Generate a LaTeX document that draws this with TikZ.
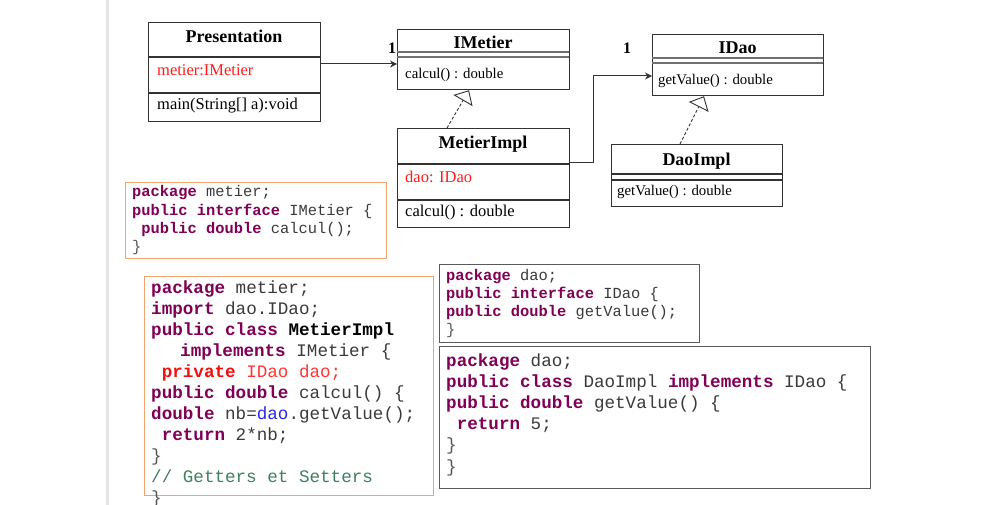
\documentclass[tikz,border=0pt]{standalone}
\usepackage{fontspec}
\setmainfont{Liberation Serif}
\newfontfamily\codefont{Liberation Mono}
\usetikzlibrary{arrows.meta}
\definecolor{umlc}{HTML}{333333}
\definecolor{kwc}{HTML}{7F0055}
\definecolor{txc}{HTML}{3A3A3A}
\definecolor{orc}{HTML}{F2A36E}
\definecolor{gbc}{HTML}{5A5A5A}
\definecolor{redk}{HTML}{F01010}
\definecolor{redt}{HTML}{FF3535}
\definecolor{bluc}{HTML}{2A2AE0}
\definecolor{cmtc}{HTML}{3F7F5F}
\definecolor{brc}{HTML}{555555}
\definecolor{umlred}{HTML}{FF1A1A}
\definecolor{edgec}{HTML}{E4E4E4}
\newcommand\kw[1]{\textcolor{kwc}{\bfseries #1}}
\newcommand\onesp{\hphantom{x}}
\begin{document}
\begin{tikzpicture}[x=1pt,y=-1pt,
  umlbox/.style={draw=umlc, line width=1.2pt, inner sep=0pt, anchor=north west},
  ttl/.style={font=\fontsize{18}{20}\selectfont\bfseries, anchor=base, inner sep=0pt},
  membig/.style={font=\fontsize{16.5}{19}\selectfont, anchor=base west, inner sep=0pt},
  memsmall/.style={font=\fontsize{14.8}{17}\selectfont, anchor=base west, inner sep=0pt},
  cline/.style={draw=umlc, line width=1.1pt},
  dline/.style={draw=umlc!70, line width=1.1pt},
  assoc/.style={draw=umlc, line width=1pt, -{Stealth[length=7pt,width=7pt]}},
  realiz/.style={draw=umlc, line width=0.9pt, dash pattern=on 3pt off 2pt, -{Triangle[open,length=12pt,width=22pt,line width=0.9pt]}},
  mult/.style={font=\fontsize{16}{18}\selectfont\bfseries, anchor=base, inner sep=0pt},
  orbox/.style={draw=orc, line width=1.4pt, inner sep=0pt, anchor=north west},
  grbox/.style={draw=gbc, line width=1.1pt, inner sep=0pt, anchor=north west},
  codes/.style={font=\codefont\fontsize{15.4}{18}\selectfont, text=txc, anchor=base west, inner sep=0pt},
  codeb/.style={font=\codefont\fontsize{17.6}{20}\selectfont, text=txc, anchor=base west, inner sep=0pt}]
\useasboundingbox (0,0) rectangle (996,505);
\fill[edgec] (105.5,0) rectangle (108.5,505);

% ---- Presentation
\node[umlbox, minimum width=172pt, minimum height=99pt] (pres) at (148,22) {};
\draw[cline] (148,57) -- (320,57);
\draw[cline] (148,93) -- (320,93);
\node[ttl] (presT) at (234,43) {Presentation};
\node[membig, text=umlred] (presA) at (157,76) {metier:IMetier};
\node[membig] (presO) at (157,110) {main(String[] a):void};

% ---- IMetier
\node[umlbox, minimum width=172pt, minimum height=60pt] (imet) at (397,29) {};
\draw[dline] (397,52) -- (569,52);
\draw[dline] (397,57) -- (569,57);
\node[ttl] (imetT) at (483,49) {IMetier};
\node[memsmall] (imetO) at (405,79) {calcul() : double};

% ---- MetierImpl
\node[umlbox, minimum width=172pt, minimum height=99pt] (mimpl) at (397,128) {};
\draw[cline] (397,164) -- (569,164);
\draw[cline] (397,200) -- (569,200);
\node[ttl] (mimplT) at (483,149) {MetierImpl};
\node[membig, text=umlred] (mimplA) at (405,183) {dao: IDao};
\node[membig] (mimplO) at (405,217) {calcul() : double};

% ---- IDao
\node[umlbox, minimum width=171pt, minimum height=61pt] (idao) at (652,34) {};
\draw[dline] (652,58) -- (823,58);
\draw[dline] (652,63) -- (823,63);
\node[ttl] (idaoT) at (737.5,54) {IDao};
\node[memsmall] (idaoO) at (658,85) {getValue() : double};

% ---- DaoImpl
\node[umlbox, minimum width=171pt, minimum height=62pt] (dimpl) at (611,144) {};
\draw[cline] (611,174) -- (782,174);
\draw[cline] (611,180) -- (782,180);
\node[ttl] (dimplT) at (696.5,166) {DaoImpl};
\node[memsmall] (dimplO) at (617,196) {getValue() : double};

% ---- connectors
\draw[assoc] (pres.east |- 0,64) -- (imet.west |- 0,64);
\draw[assoc] (mimpl.east |- 0,163) -- ++(23,0) |- (idao.west |- 0,76);
\draw[realiz] (mimpl.north -| 447,0) -- (imet.south -| 469,0);
\draw[realiz] (dimpl.north -| 680,0) -- (idao.south -| 704,0);
\node[mult] (m1) at (392,54) {1};
\node[mult] (m2) at (627,54) {1};

% ---- code box A
\node[orbox, minimum width=261pt, minimum height=76pt] (cbA) at (125,182) {};
\foreach \myline [count=\i] in {
  {\kw{package} metier;},
  {\kw{public} \kw{interface} IMetier \{},
  {\onesp\kw{public} \kw{double} calcul();},
  {\textcolor{brc}{\}}}}
  \node[codes, name=ca\i] at (132,{197+(\i-1)*18.3}) {\myline};

% ---- code box B
\node[orbox, minimum width=289pt, minimum height=219pt] (cbB) at (144,276) {};
\foreach \myline [count=\i] in {
  {\kw{package} metier;},
  {\kw{import} dao.IDao;},
  {\kw{public} \kw{class} \textcolor{black}{\bfseries MetierImpl}},
  {\hspace*{29pt}\kw{implements} IMetier \{},
  {\onesp\textcolor{redk}{\bfseries private} \textcolor{redt}{IDao dao;}},
  {\kw{public} \kw{double} calcul() \{},
  {\kw{double} nb=\textcolor{bluc}{dao}.getValue();},
  {\onesp\kw{return} 2*nb;},
  {\textcolor{brc}{\}}},
  {\textcolor{cmtc}{// Getters et Setters}},
  {\textcolor{brc}{\}}}}
  \node[codeb, name=cb\i] at (151,{293+(\i-1)*21}) {\myline};

% ---- code box C
\node[grbox, minimum width=260pt, minimum height=78pt] (cbC) at (439,264) {};
\foreach \myline [count=\i] in {
  {\kw{package} dao;},
  {\kw{public} \kw{interface} IDao \{},
  {\kw{public} \kw{double} getValue();},
  {\textcolor{brc}{\}}}}
  \node[codes, name=cc\i] at (446,{280+(\i-1)*18.3}) {\myline};

% ---- code box D
\node[grbox, minimum width=431pt, minimum height=142pt] (cbD) at (439,346) {};
\foreach \myline [count=\i] in {
  {\kw{package} dao;},
  {\kw{public} \kw{class} DaoImpl \kw{implements} IDao \{},
  {\kw{public} \kw{double} getValue() \{},
  {\onesp\kw{return} 5;},
  {\textcolor{brc}{\}}},
  {\textcolor{brc}{\}}}}
  \node[codeb, name=cd\i] at (446,{366+(\i-1)*21.2}) {\myline};
\end{tikzpicture}
\end{document}
